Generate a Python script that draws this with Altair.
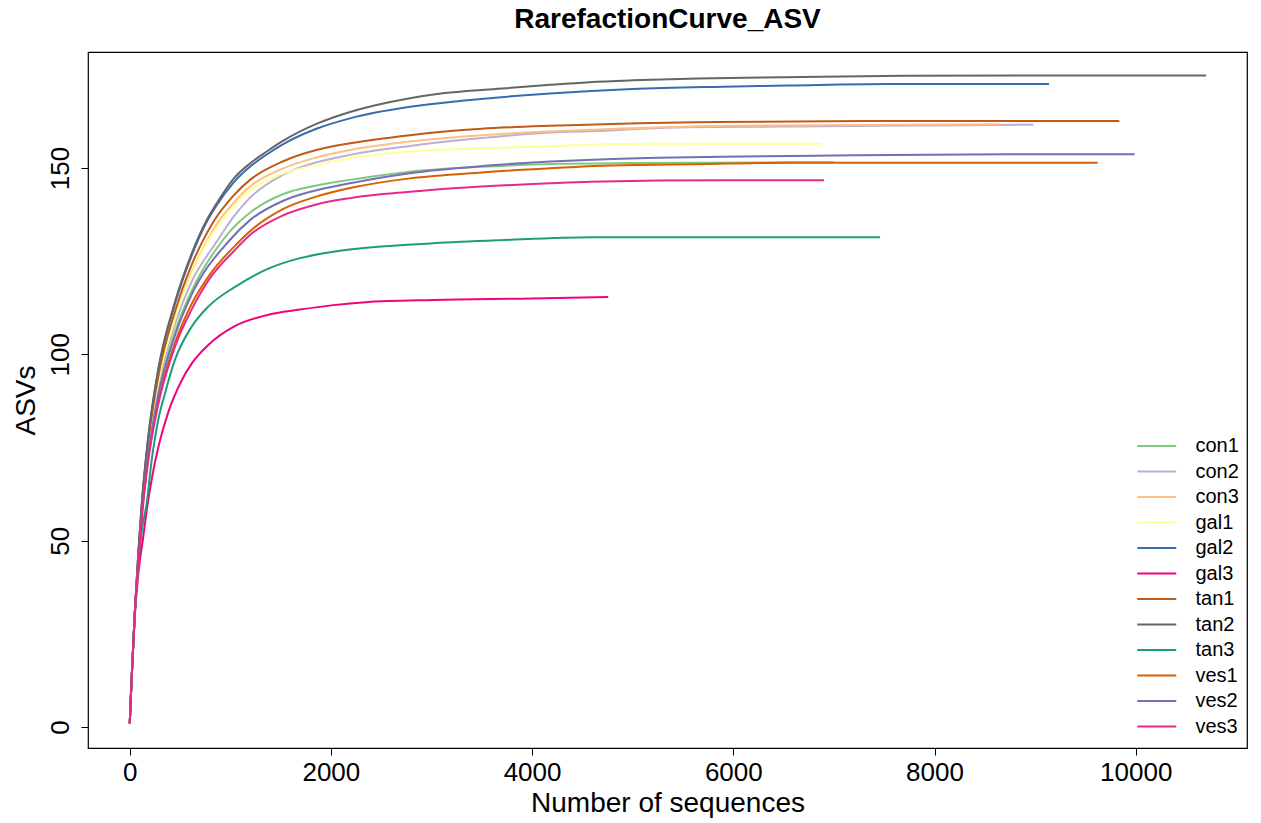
import altair as alt
import pandas as pd

# ---- data ----
samples = ["con1", "con2", "con3", "gal1", "gal2", "gal3",
           "tan1", "tan2", "tan3", "ves1", "ves2", "ves3"]
colors = ["#7FC97F", "#BEAED4", "#FDC086", "#FFFF99", "#386CB0", "#F0027F",
          "#BF5B17", "#666666", "#1B9E77", "#D95F02", "#7570B3", "#E7298A"]

con1_n = [1, 10, 25, 50, 86, 120, 185, 284, 450, 616, 914, 1014, 1196, 1527, 1856, 2190, 2786, 3500, 4270, 4970, 5610, 6580, 7000]
con1_s = [1, 7, 16, 30, 45, 57.5, 74, 90, 106, 117, 130.2, 133.5, 138, 143, 145.3, 146.8, 149, 150.3, 151.1, 151.3, 151.4, 151.5, 151.5]

con2_n = [1, 10, 25, 50, 86, 120, 185, 284, 450, 616, 865, 964, 1196, 1527, 1856, 2190, 2786, 3500, 4180, 4720, 5080, 5530, 6500, 7440, 8984]
con2_s = [1, 7, 16, 30, 45, 58, 75, 91.5, 108, 119.5, 130.2, 134.3, 142, 148.2, 151.5, 153.5, 155.9, 158, 159.5, 160, 160.5, 160.9, 161.1, 161.3, 161.6]

con3_n = [1, 10, 25, 50, 86, 120, 185, 284, 450, 616, 765, 881, 1030, 1196, 1527, 1856, 2190, 2786, 3500, 4180, 4845, 5300, 5955, 7176, 8641]
con3_s = [1, 7, 16, 30, 45.5, 58.5, 76, 93, 110, 122, 130.2, 135.5, 140.5, 145, 149.9, 152.8, 154.8, 157.1, 158.8, 159.8, 160.5, 160.9, 161.3, 161.5, 161.7]

gal1_n = [1, 10, 25, 50, 86, 120, 185, 284, 450, 616, 781, 914, 1196, 1527, 1856, 2190, 2786, 3500, 4180, 4440, 5210, 6872]
gal1_s = [1, 7, 16, 30, 45.5, 58.5, 76, 92.5, 109.5, 121.5, 130.5, 135.8, 144, 148.5, 150.8, 152.6, 154.4, 155.3, 155.8, 156.1, 156.5, 156.5]

gal2_n = [1, 10, 25, 50, 86, 120, 185, 284, 450, 616, 765, 865, 1030, 1196, 1362, 1527, 1856, 2190, 2786, 3300, 4180, 5000, 5900, 6550, 7520, 9139]
gal2_s = [1, 7, 16, 30, 46.5, 59.5, 77.5, 95.5, 113.5, 126.5, 135.5, 140, 146, 150.3, 153.6, 156.4, 160.5, 163.3, 166.4, 168, 170, 171.2, 171.8, 172.1, 172.5, 172.5]

gal3_n = [1, 10, 25, 50, 86, 135, 169, 219, 284, 384, 517, 616, 781, 1040, 1362, 1693, 2024, 2350, 3018, 4000, 4757]
gal3_s = [1, 7, 16, 29, 41, 51, 58, 66.5, 75, 84.5, 93, 97.5, 102.5, 107.5, 110.5, 112, 113.2, 114, 114.6, 115, 115.4]

tan1_n = [1, 10, 25, 50, 86, 120, 185, 284, 450, 616, 732, 831, 1030, 1196, 1527, 1856, 2190, 2786, 3500, 4180, 4546, 5058, 5828, 7320, 9837]
tan1_s = [1, 7, 16, 30, 46, 59, 76.5, 94, 111.5, 124, 130.7, 135.5, 142.5, 146.8, 151.8, 154.8, 156.6, 158.8, 160.5, 161.3, 161.6, 162, 162.3, 162.6, 162.6]

tan2_n = [1, 10, 25, 50, 86, 120, 185, 284, 450, 616, 765, 865, 1030, 1196, 1362, 1527, 1856, 2190, 2786, 3018, 3700, 4180, 4566, 5000, 5650, 6500, 7700, 9000, 10700]
tan2_s = [1, 7, 16, 30, 47, 60, 78, 96, 114, 127, 136, 140.5, 147, 151.2, 154.4, 157.3, 161.8, 165, 168.7, 169.7, 171.3, 172.3, 173, 173.5, 174, 174.3, 174.7, 174.8, 174.8]

tan3_n = [1, 10, 25, 50, 86, 120, 169, 219, 284, 351, 450, 616, 781, 1047, 1362, 1693, 2024, 2500, 3018, 3681, 4600, 7459]
tan3_s = [1, 7, 16, 30, 43, 52.5, 60, 71.6, 82.4, 89.5, 98.5, 107.4, 112.8, 118.1, 122.8, 125.8, 127.5, 128.9, 129.8, 130.6, 131.4, 131.4]

ves1_n = [1, 10, 25, 50, 86, 120, 185, 284, 450, 616, 800, 1080, 1196, 1527, 1856, 2190, 2786, 3500, 4180, 4620, 5035, 5610, 6580, 9622]
ves1_s = [1, 7, 16, 30, 44, 56, 72, 87.5, 103, 113.5, 121.5, 130, 133, 139, 142.3, 144.6, 147.2, 148.8, 149.9, 150.5, 150.8, 151, 151.4, 151.4]

ves2_n = [1, 10, 25, 50, 86, 120, 185, 284, 450, 616, 980, 1196, 1527, 1856, 2190, 2786, 3500, 4180, 4800, 5258, 5890, 6815, 8710, 9990]
ves2_s = [1, 7, 16, 30, 44.5, 57, 73, 89, 105, 116, 130.2, 136, 141.2, 144, 145.9, 148.6, 150.5, 151.7, 152.4, 152.7, 153, 153.3, 153.7, 153.7]

ves3_n = [1, 10, 25, 50, 86, 120, 185, 284, 450, 616, 800, 1047, 1196, 1527, 1856, 2190, 2786, 3500, 4180, 4585, 5910, 6902]
ves3_s = [1, 7, 16, 30, 44, 56, 71.5, 86.5, 102, 112, 120.5, 128, 132, 137.3, 140.2, 141.9, 143.6, 145, 145.9, 146.3, 146.7, 146.7]

series = {
    "con1": (con1_n, con1_s), "con2": (con2_n, con2_s), "con3": (con3_n, con3_s),
    "gal1": (gal1_n, gal1_s), "gal2": (gal2_n, gal2_s), "gal3": (gal3_n, gal3_s),
    "tan1": (tan1_n, tan1_s), "tan2": (tan2_n, tan2_s), "tan3": (tan3_n, tan3_s),
    "ves1": (ves1_n, ves1_s), "ves2": (ves2_n, ves2_s), "ves3": (ves3_n, ves3_s),
}

x_ticks = [0, 2000, 4000, 6000, 8000, 10000]
y_ticks = [0, 50, 100, 150]

rows = []
for i, name in enumerate(samples):
    ns, ss = series[name]
    for n, s in zip(ns, ss):
        rows.append({"sample": name, "order": i, "n": n, "S": s})
df = pd.DataFrame(rows)

FONT = "Liberation Sans"

chart = alt.Chart(df).mark_line(strokeWidth=2, clip=True, interpolate="monotone").encode(
    x=alt.X("n:Q",
            scale=alt.Scale(domain=[-414, 11106], nice=False, zero=False),
            axis=alt.Axis(values=x_ticks, format="d", title="Number of sequences",
                          grid=False, domain=False, tickSize=7, tickColor="black",
                          labelFontSize=26, labelFont=FONT, labelColor="black",
                          labelPadding=4, titleFontSize=28, titleFont=FONT,
                          titleFontWeight="normal", titleColor="black",
                          titlePadding=4)),
    y=alt.Y("S:Q",
            scale=alt.Scale(domain=[-5.6, 181.1], nice=False, zero=False),
            axis=alt.Axis(values=y_ticks, format="d", title="ASVs",
                          grid=False, domain=False, tickSize=7, tickColor="black",
                          labelFontSize=26, labelFont=FONT, labelColor="black",
                          labelAngle=270, labelAlign="center", labelBaseline="bottom",
                          labelPadding=8, titleFontSize=28, titleFont=FONT,
                          titleFontWeight="normal", titleColor="black",
                          titlePadding=7)),
    color=alt.Color("sample:N",
                    scale=alt.Scale(domain=samples, range=colors),
                    legend=alt.Legend(title=None, orient="none",
                                      legendX=1057.75, legendY=383,
                                      symbolType="M-2,0H2", symbolSize=380,
                                      symbolStrokeWidth=2, symbolOffset=0,
                                      symbolFillColor="transparent",
                                      labelFont=FONT, labelFontSize=20,
                                      labelColor="black", labelOffset=27.75,
                                      rowPadding=4.5, padding=0)),
    detail="sample:N",
    order="order:Q",
).properties(
    width=1159,
    height=696,
    title=alt.TitleParams("RarefactionCurve_ASV", font=FONT, fontSize=28,
                          fontWeight="bold", color="black", anchor="middle",
                          frame="group", offset=18),
    autosize=alt.AutoSizeParams(type="none"),
    padding={"left": 88, "top": 52, "right": 14, "bottom": 75},
    background="white",
).configure_view(stroke="black", strokeWidth=1.2)

chart.save("out.html", embed_options={"renderer": "svg", "actions": False})
